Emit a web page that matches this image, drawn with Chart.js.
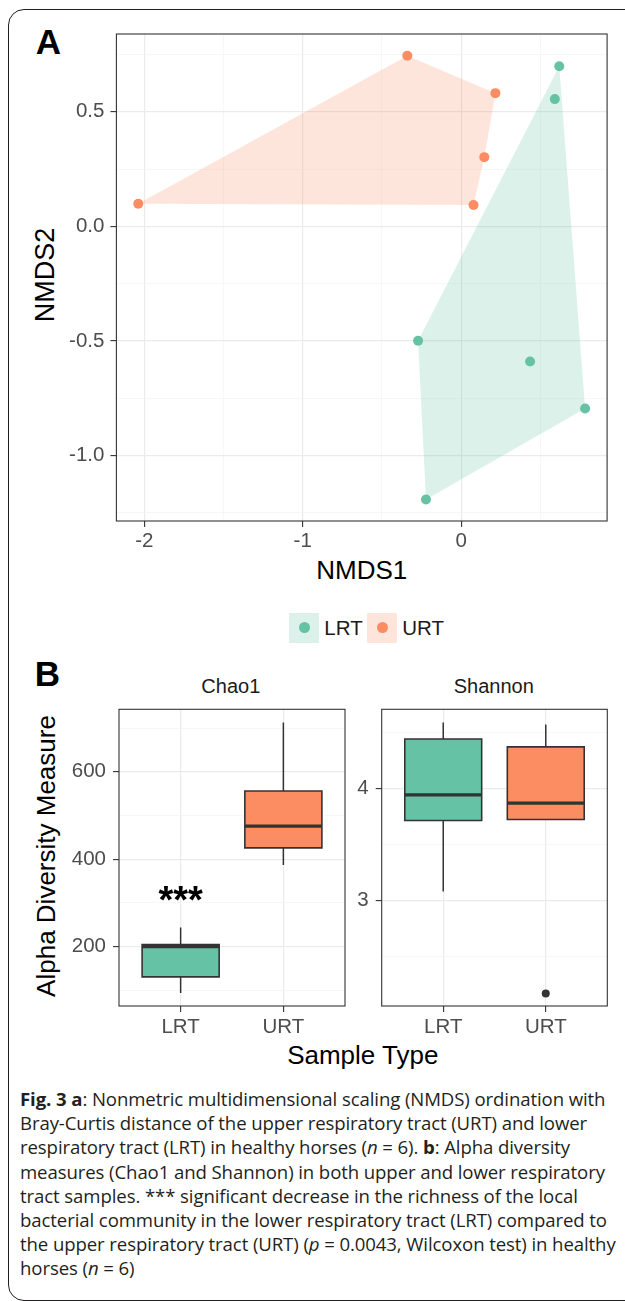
<!DOCTYPE html>
<html>
<head>
<meta charset="utf-8">
<script src="https://cdn.jsdelivr.net/npm/chart.js@4.4.1/dist/chart.umd.min.js"></script>
<style>
  html, body { margin: 0; padding: 0; background: #ffffff; }
  body { width: 625px; height: 1301px; position: relative; overflow: hidden;
         font-family: 'Liberation Sans', Arial, Helvetica, sans-serif; }
  #frame { position: absolute; left: 8px; top: 9px; width: 680px; height: 1292px;
           border: 1.6px solid #231f20; border-radius: 16px; box-sizing: border-box; }
  canvas { position: absolute; }
  .t { position: absolute; white-space: nowrap; line-height: 1.15; }
  .c { transform: translate(-50%, -50%); }
  .r { transform: translate(-50%, -50%) rotate(-90deg); }
  .panel { font-weight: bold; font-size: 35px; color: #000; }
  .title { font-size: 26px; color: #000; }
  .strip { font-size: 20px; color: #1a1a1a; }
  .key { position: absolute; width: 30px; height: 30px; }
  .dot { position: absolute; left: 9.5px; top: 9.5px; width: 11px; height: 11px; border-radius: 50%; }
  .ltext { position: absolute; font-size: 20.5px; color: #1a1a1a; transform: translateY(-50%); line-height: 1.15; }
  #caption { position: absolute; left: 20px; top: 1087px; font-family: 'Open Sans', sans-serif;
             font-size: 18.6px; line-height: 24.2px; color: #231f20; white-space: nowrap; letter-spacing: -0.1px; }
</style>
</head>
<body>
<div id="frame"></div>

<div class="t c panel" style="left:48.5px;top:41.5px;">A</div>
<div class="t r title" style="left:45.7px;top:275px;font-size:27px;">NMDS2</div>
<div class="t c title" style="left:361.8px;top:571px;">NMDS1</div>
<div id="legend"></div>

<div class="t c panel" style="left:47.5px;top:673.7px;">B</div>
<div class="t c strip" style="left:230.8px;top:686px;">Chao1</div>
<div class="t c strip" style="left:493.8px;top:686px;">Shannon</div>
<div class="t r title" style="left:46.7px;top:855.8px;">Alpha Diversity Measure</div>
<div class="t c title" style="left:362.8px;top:1056px;">Sample Type</div>

<canvas id="chartA" width="625" height="600" style="left:0px;top:0px;"></canvas>
<canvas id="chartChao1" width="292" height="350" style="left:60px;top:690px;"></canvas>
<canvas id="chartShannon" width="285" height="350" style="left:340px;top:690px;"></canvas>

<div id="caption"><b>Fig. 3</b> <b>a</b>: Nonmetric multidimensional scaling (NMDS) ordination with<br>Bray-Curtis distance of the upper respiratory tract (URT) and lower<br>respiratory tract (LRT) in healthy horses (<i>n</i> = 6). <b>b</b>: Alpha diversity<br>measures (Chao1 and Shannon) in both upper and lower respiratory<br>tract samples. *** significant decrease in the richness of the local<br>bacterial community in the lower respiratory tract (LRT) compared to<br>the upper respiratory tract (URT) (<i>p</i> = 0.0043, Wilcoxon test) in healthy<br>horses (<i>n</i> = 6)</div>

<script>
// ---------------- DATA ----------------
const groups = ['LRT', 'URT'];

// Panel A: NMDS ordination coordinates
const lrtNMDS1 = [0.619, 0.591, -0.272, 0.435, 0.782, -0.222];
const lrtNMDS2 = [0.698, 0.555, -0.499, -0.589, -0.794, -1.191];
const urtNMDS1 = [-2.038, -0.340, 0.216, 0.146, 0.078];
const urtNMDS2 = [0.099, 0.744, 0.581, 0.302, 0.093];

const nmds1Ticks = [-2, -1, 0];
const nmds1MinorTicks = [-1.5, -0.5, 0.5];
const nmds2Ticks = [-1.0, -0.5, 0.0, 0.5];
const nmds2MinorTicks = [-1.25, -0.75, -0.25, 0.25, 0.75];

// Panel B: box-plot statistics [min, q1, median, q3, max]
const chao1LRT = [94, 131, 200, 205, 244];
const chao1URT = [387, 426, 476, 556, 713];
const shannonLRT = [3.08, 3.715, 3.944, 4.444, 4.591];
const shannonURT = [3.724, 3.724, 3.87, 4.373, 4.574];
const shannonOutliersLRT = [];
const shannonOutliersURT = [2.17];

const chao1Ticks = [200, 400, 600];
const chao1MinorTicks = [100, 300, 500, 700];
const shannonTicks = [3, 4];
const shannonMinorTicks = [2.5, 3.5, 4.5];

const sigLabel = '***';
const sigGroup = 'LRT';
const sigValue = 300;

// ---------------- STYLE ----------------
const FONT = "'Liberation Sans', Arial, Helvetica, sans-serif";
const groupColors = ['#66c2a5', '#fc8d62'];
const hullColors = ['rgba(102,194,165,0.23)', 'rgba(252,141,98,0.23)'];
const INK = '#333333';
const BOX_HALF = 0.375;
Chart.defaults.font.family = FONT;

// legend (HTML)
(function () {
  const lg = document.getElementById('legend');
  const keyLeft = [289.3, 367.3];
  groups.forEach((g, i) => {
    const k = document.createElement('div');
    k.className = 'key';
    k.style.left = keyLeft[i] + 'px'; k.style.top = '612.7px';
    k.style.background = hullColors[i];
    const d = document.createElement('div');
    d.className = 'dot'; d.style.background = groupColors[i];
    k.appendChild(d); lg.appendChild(k);
    const t = document.createElement('div');
    t.className = 'ltext'; t.textContent = g;
    t.style.left = (keyLeft[i] + 35) + 'px'; t.style.top = '627.7px';
    lg.appendChild(t);
  });
})();

function convexHull(xs, ys) {
  const pts = xs.map((x, i) => ({ x: x, y: ys[i] })).sort((a, b) => a.x - b.x || a.y - b.y);
  const cross = (o, a, b) => (a.x - o.x) * (b.y - o.y) - (a.y - o.y) * (b.x - o.x);
  const lower = [];
  for (const p of pts) {
    while (lower.length >= 2 && cross(lower[lower.length - 2], lower[lower.length - 1], p) <= 0) lower.pop();
    lower.push(p);
  }
  const upper = [];
  for (const p of pts.slice().reverse()) {
    while (upper.length >= 2 && cross(upper[upper.length - 2], upper[upper.length - 1], p) <= 0) upper.pop();
    upper.push(p);
  }
  upper.pop(); lower.pop();
  const hull = lower.concat(upper);
  hull.push(hull[0]);
  return hull;
}

function makeScale(o) {
  const all = o.major.concat(o.minor).sort((a, b) => a - b);
  const isMajor = v => o.major.some(m => Math.abs(m - v) < 1e-9);
  const tv = c => (c && c.tick) ? c.tick.value : NaN;
  return {
    type: 'linear', min: o.min, max: o.max,
    afterBuildTicks: s => { s.ticks = all.map(v => ({ value: v })); },
    afterFit: s => { if (o.width != null) s.width = o.width; if (o.height != null) s.height = o.height; },
    ticks: {
      callback: v => isMajor(v) ? o.fmt(v) : '',
      color: '#4d4d4d', font: { family: FONT, size: 20.5 }, padding: o.pad,
      autoSkip: false, maxRotation: 0, minRotation: 0, includeBounds: false
    },
    grid: {
      color: c => isMajor(tv(c)) ? '#ebebeb' : '#f4f4f4',
      lineWidth: c => isMajor(tv(c)) ? 1.2 : 0.7,
      tickColor: c => isMajor(tv(c)) ? INK : 'rgba(0,0,0,0)',
      tickWidth: 1.1, tickLength: 6, drawTicks: true, drawOnChartArea: true
    },
    border: { display: false }
  };
}

const panelBorder = {
  id: 'panelBorder',
  afterDatasetsDraw(chart) {
    const { ctx, chartArea: a } = chart;
    ctx.save();
    ctx.strokeStyle = INK; ctx.lineWidth = 1.1;
    ctx.strokeRect(a.left, a.top, a.right - a.left, a.bottom - a.top);
    ctx.restore();
  }
};

const baseOptions = (padding, scales) => ({
  responsive: false, animation: false, devicePixelRatio: 1, events: [],
  layout: { padding: padding },
  plugins: { legend: { display: false }, tooltip: { enabled: false } },
  scales: scales
});

// ---------------- PANEL A ----------------
const nmdsX = [lrtNMDS1, urtNMDS1];
const nmdsY = [lrtNMDS2, urtNMDS2];
const dsA = [];
groups.forEach((g, i) => {
  dsA.push({
    type: 'scatter', label: g,
    data: nmdsX[i].map((x, j) => ({ x: x, y: nmdsY[i][j] })),
    backgroundColor: groupColors[i], pointRadius: 5, pointBorderWidth: 0, borderWidth: 0, order: 0
  });
});
groups.forEach((g, i) => {
  dsA.push({
    type: 'line', label: g + ' hull',
    data: convexHull(nmdsX[i], nmdsY[i]),
    fill: 'shape', backgroundColor: hullColors[i], borderColor: 'rgba(0,0,0,0)', borderWidth: 0,
    pointRadius: 0, tension: 0, order: 1
  });
});

new Chart(document.getElementById('chartA'), {
  type: 'scatter',
  data: { datasets: dsA },
  options: baseOptions({ left: 0, top: 34, right: 17.9, bottom: 39 }, {
    x: makeScale({ min: -2.176, max: 0.921, major: nmds1Ticks, minor: nmds1MinorTicks,
                   fmt: v => String(v), pad: 2, height: 40 }),
    y: makeScale({ min: -1.285, max: 0.839, major: nmds2Ticks, minor: nmds2MinorTicks,
                   fmt: v => v.toFixed(1), pad: 6, width: 116.4 })
  }),
  plugins: [panelBorder]
});

// ---------------- PANEL B ----------------
function boxDatasets(statsList, outliersList) {
  const ds = [];
  statsList.forEach((s, i) => {
    const x = i + 1;
    const [mn, q1, med, q3, mx] = s;
    const line = (pts, w, order) => ({
      type: 'line', data: pts, borderColor: INK, borderWidth: w, pointRadius: 0, fill: false, order: order
    });
    ds.push(line([{ x: x, y: q3 }, { x: x, y: mx }], 1.5, 3));
    ds.push(line([{ x: x, y: mn }, { x: x, y: q1 }], 1.5, 3));
    ds.push({
      type: 'line',
      data: [{ x: x - BOX_HALF, y: q1 }, { x: x + BOX_HALF, y: q1 }, { x: x + BOX_HALF, y: q3 },
             { x: x - BOX_HALF, y: q3 }, { x: x - BOX_HALF, y: q1 }],
      fill: 'shape', backgroundColor: groupColors[i], borderColor: INK, borderWidth: 1.6,
      borderCapStyle: 'square', borderJoinStyle: 'miter', pointRadius: 0, order: 2
    });
    ds.push(line([{ x: x - BOX_HALF, y: med }, { x: x + BOX_HALF, y: med }], 3.2, 1));
    ds.push({
      type: 'scatter', data: (outliersList[i] || []).map(v => ({ x: x, y: v })),
      backgroundColor: INK, pointRadius: 4, pointBorderWidth: 0, order: 0
    });
  });
  return ds;
}

const xCat = (h) => makeScale({ min: 0.4, max: 2.6, major: [1, 2], minor: [],
                                fmt: v => groups[Math.round(v) - 1], pad: 3, height: h });

const sigPlugin = {
  id: 'sig',
  afterDatasetsDraw(chart) {
    const { ctx, scales } = chart;
    ctx.save();
    ctx.font = 'bold 38px ' + FONT;
    ctx.fillStyle = '#000';
    ctx.textAlign = 'center';
    ctx.textBaseline = 'middle';
    ctx.fillText(sigLabel, scales.x.getPixelForValue(groups.indexOf(sigGroup) + 1), scales.y.getPixelForValue(sigValue));
    ctx.restore();
  }
};

new Chart(document.getElementById('chartChao1'), {
  type: 'scatter',
  data: { datasets: boxDatasets([chao1LRT, chao1URT], [[], []]) },
  options: baseOptions({ left: 0, top: 15.7, right: 7, bottom: 0 }, {
    x: xCat(34),
    y: makeScale({ min: 64.4, max: 743, major: chao1Ticks, minor: chao1MinorTicks,
                   fmt: v => String(v), pad: 7, width: 59 })
  }),
  plugins: [panelBorder, sigPlugin]
});

new Chart(document.getElementById('chartShannon'), {
  type: 'scatter',
  data: { datasets: boxDatasets([shannonLRT, shannonURT], [shannonOutliersLRT, shannonOutliersURT]) },
  options: baseOptions({ left: 0, top: 15.7, right: 17.7, bottom: 0 }, {
    x: xCat(34),
    y: makeScale({ min: 2.058, max: 4.709, major: shannonTicks, minor: shannonMinorTicks,
                   fmt: v => String(v), pad: 7, width: 41.7 })
  }),
  plugins: [panelBorder]
});
</script>
</body>
</html>
